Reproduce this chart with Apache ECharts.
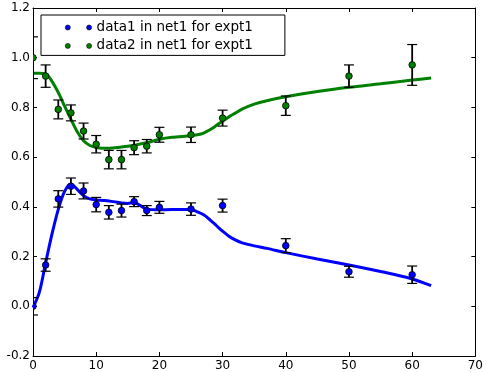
<!DOCTYPE html>
<html>
<head>
<meta charset="utf-8">
<script src="https://cdn.jsdelivr.net/npm/echarts@6/dist/echarts.min.js"></script>
<style>
html,body{margin:0;padding:0;background:#fff;}
#chart{width:486px;height:372px;}
</style>
</head>
<body>
<div id="chart"></div>
<script>
// ---- data ----
const xPts = [0, 2, 4, 6, 8, 10, 12, 14, 16, 18, 20, 25, 30, 40, 50, 60];
const data1 = [0.0, 0.166, 0.432, 0.483, 0.464, 0.409, 0.378, 0.385, 0.421, 0.385, 0.398, 0.391, 0.405, 0.244, 0.139, 0.127];
const err1 = [0.035, 0.025, 0.033, 0.033, 0.032, 0.029, 0.027, 0.026, 0.02, 0.02, 0.024, 0.025, 0.026, 0.028, 0.022, 0.035];
const data2 = [1.0, 0.926, 0.792, 0.778, 0.705, 0.652, 0.59, 0.59, 0.638, 0.644, 0.69, 0.69, 0.757, 0.807, 0.926, 0.971];
const err2 = [0.084, 0.045, 0.038, 0.032, 0.032, 0.035, 0.037, 0.037, 0.028, 0.027, 0.03, 0.031, 0.032, 0.039, 0.045, 0.082];

const curveX = [0, 1, 2, 3, 4, 5, 6, 7, 8, 9, 10, 11, 12, 14, 15, 16, 17, 18, 20, 22, 25, 26, 27, 28, 29, 30, 31, 32, 33, 35, 37, 40, 45, 50, 55, 60, 63];
const curve1 = [-0.005, 0.056, 0.175, 0.29, 0.39, 0.462, 0.492, 0.47, 0.445, 0.432, 0.428, 0.426, 0.424, 0.416, 0.414, 0.418, 0.405, 0.391, 0.388, 0.389, 0.389, 0.38, 0.368, 0.348, 0.325, 0.302, 0.282, 0.267, 0.256, 0.243, 0.233, 0.216, 0.19, 0.166, 0.14, 0.11, 0.083];
const curve2 = [0.937, 0.937, 0.935, 0.905, 0.86, 0.805, 0.752, 0.702, 0.666, 0.647, 0.639, 0.636, 0.636, 0.641, 0.644, 0.648, 0.653, 0.658, 0.672, 0.68, 0.686, 0.69, 0.697, 0.71, 0.727, 0.745, 0.762, 0.777, 0.792, 0.813, 0.827, 0.843, 0.864, 0.881, 0.895, 0.91, 0.918];

const xTicks = [0, 70, 10];      // min, max, interval
const yTicks = [-0.2, 1.2, 0.2]; // min, max, interval

const name1 = 'data1 in net1 for expt1';
const name2 = 'data2 in net1 for expt1';
const blue = '#0000ff';
const green = '#008000';

// ---- build ----
const zip = (xs, ys) => xs.map((x, i) => [x, ys[i]]);
const zip3 = (xs, ys, es) => xs.map((x, i) => [x, ys[i], es[i]]);

function errRender(color) {
  return function (params, api) {
    const x = api.value(0), y = api.value(1), e = api.value(2);
    const p = api.coord([x, y]);
    const t = api.coord([x, y + e]);
    const b = api.coord([x, y - e]);
    const cap = 5;
    const capStyle = { stroke: '#000', lineWidth: 1.2 };
    return {
      type: 'group',
      children: [
        { type: 'line', shape: { x1: p[0], y1: t[1], x2: p[0], y2: b[1] }, style: { stroke: '#000', lineWidth: 1.8 } },
        { type: 'line', shape: { x1: p[0] - cap, y1: t[1], x2: p[0] + cap, y2: t[1] }, style: capStyle },
        { type: 'line', shape: { x1: p[0] - cap, y1: b[1], x2: p[0] + cap, y2: b[1] }, style: capStyle },
        { type: 'circle', shape: { cx: p[0], cy: p[1], r: 3.3 }, style: { fill: color, stroke: '#000', lineWidth: 0.8 } }
      ]
    };
  };
}

const font = 'DejaVu Sans';
const axisCommon = {
  type: 'value',
  splitLine: { show: false },
  axisLine: { show: true, onZero: false, lineStyle: { color: '#000', width: 1 } },
  axisTick: { show: true, inside: true, length: 4, lineStyle: { color: '#000', width: 1 } }
};

const legendIcon = 'path://M0,2.5a2.5,2.5 0 1,0 5,0a2.5,2.5 0 1,0 -5,0z M21.3,2.5a2.5,2.5 0 1,0 5,0a2.5,2.5 0 1,0 -5,0z';

const chart = echarts.init(document.getElementById('chart'), null, { renderer: 'canvas' });
chart.setOption({
  animation: false,
  backgroundColor: '#fff',
  grid: { left: 33, right: 7, top: 8, bottom: 15, containLabel: false },
  legend: {
    data: [name1, name2],
    orient: 'vertical',
    left: 41, top: 15,
    padding: [5, 32, 2, 24],
    itemGap: 3.4,
    itemWidth: 26.3, itemHeight: 5,
    icon: legendIcon,
    selectedMode: false,
    backgroundColor: '#fff',
    borderColor: '#000', borderWidth: 1, borderRadius: 0,
    itemStyle: { borderColor: '#000', borderWidth: 0.6 },
    textStyle: { color: '#000', fontSize: 13.5, fontFamily: font, lineHeight: 15 }
  },
  xAxis: [
    Object.assign({}, axisCommon, {
      min: xTicks[0], max: xTicks[1], interval: xTicks[2], position: 'bottom',
      axisLabel: { color: '#000', fontSize: 12, fontFamily: font, margin: 4 }
    }),
    Object.assign({}, axisCommon, {
      min: xTicks[0], max: xTicks[1], interval: xTicks[2], position: 'top',
      axisLabel: { show: false }
    })
  ],
  yAxis: [
    Object.assign({}, axisCommon, {
      min: yTicks[0], max: yTicks[1], interval: yTicks[2], position: 'left',
      axisLabel: { color: '#000', fontSize: 12, fontFamily: font, margin: 3, formatter: v => v.toFixed(1) }
    }),
    Object.assign({}, axisCommon, {
      min: yTicks[0], max: yTicks[1], interval: yTicks[2], position: 'right',
      axisLabel: { show: false }
    })
  ],
  series: [
    {
      type: 'line', name: 'fit1', data: zip(curveX, curve1), showSymbol: false, smooth: 0.3,
      lineStyle: { color: blue, width: 3 }, itemStyle: { color: blue }, silent: true, clip: true, z: 2
    },
    {
      type: 'line', name: 'fit2', data: zip(curveX, curve2), showSymbol: false, smooth: 0.3,
      lineStyle: { color: green, width: 3 }, itemStyle: { color: green }, silent: true, clip: true, z: 2
    },
    {
      type: 'custom', name: name1, data: zip3(xPts, data1, err1), renderItem: errRender(blue),
      itemStyle: { color: blue, borderColor: '#000', borderWidth: 0.6 }, clip: true, z: 3,
      encode: { x: 0, y: 1 }
    },
    {
      type: 'custom', name: name2, data: zip3(xPts, data2, err2), renderItem: errRender(green),
      itemStyle: { color: green, borderColor: '#000', borderWidth: 0.6 }, clip: true, z: 3,
      encode: { x: 0, y: 1 }
    }
  ]
});
</script>
</body>
</html>
